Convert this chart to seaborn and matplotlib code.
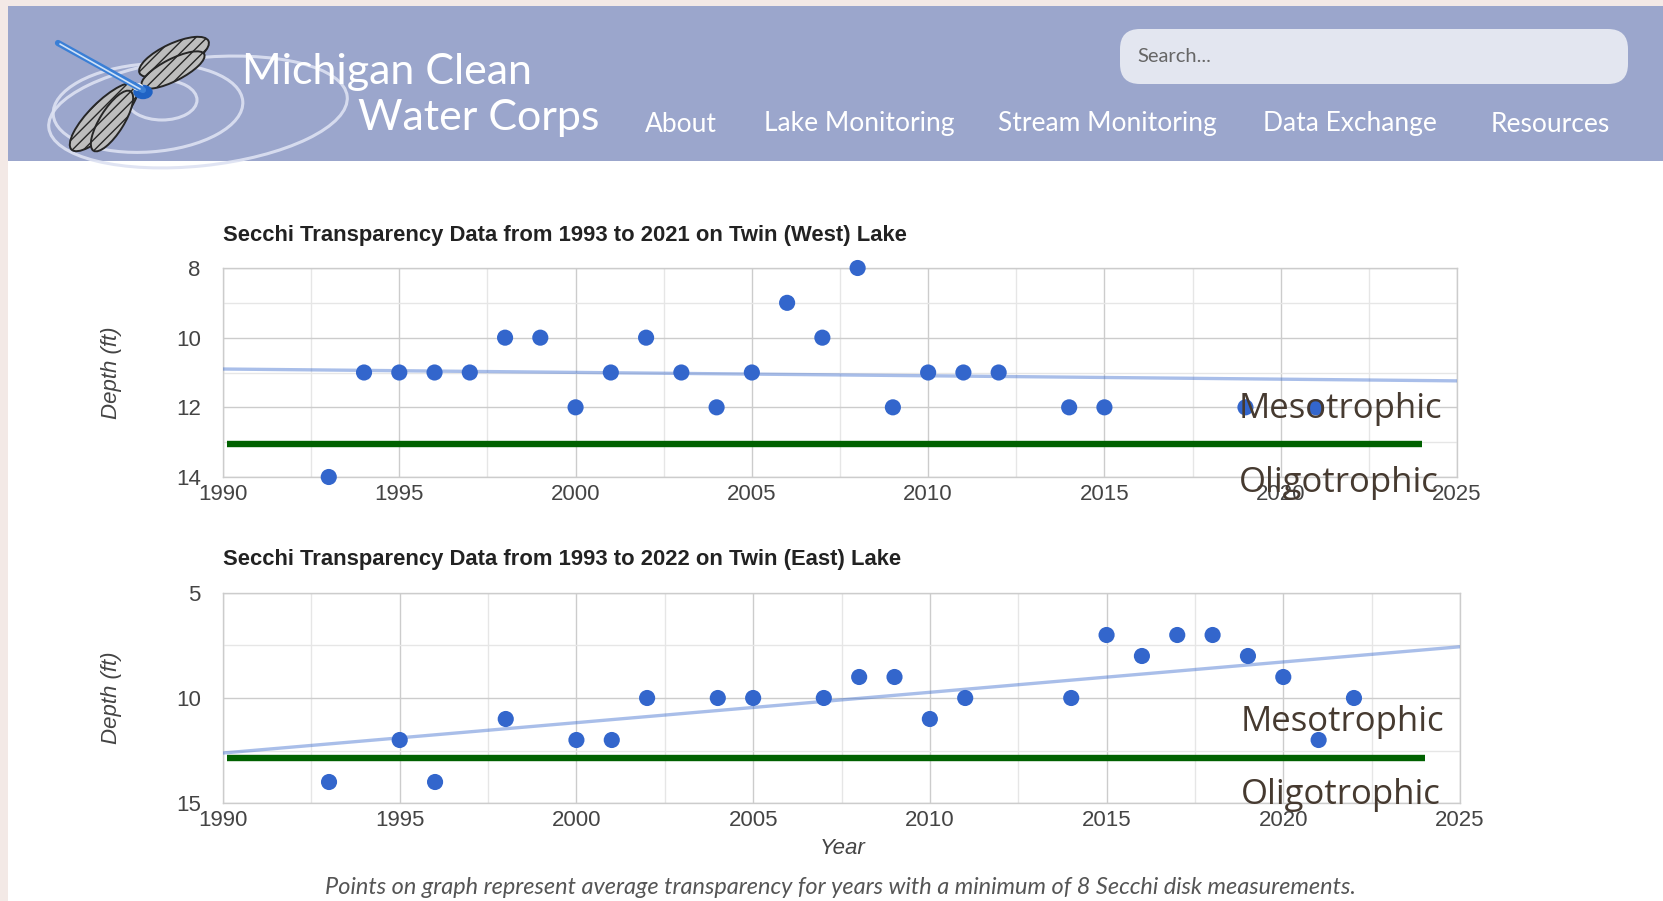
import numpy as np
import pandas as pd
import matplotlib.pyplot as plt
from matplotlib.patches import Rectangle, Ellipse, FancyBboxPatch
import seaborn as sns

# Secchi depth (ft) per year
west_years = [1993, 1994, 1995, 1996, 1997, 1998, 1999, 2000, 2001, 2002, 2003, 2004,
              2005, 2006, 2007, 2008, 2009, 2010, 2011, 2012, 2014, 2015, 2019, 2021]
west_depth = [14, 11, 11, 11, 11, 10, 10, 12, 11, 10, 11, 12,
              11, 9, 10, 8, 12, 11, 11, 11, 12, 12, 12, 12]
east_years = [1993, 1995, 1996, 1998, 2000, 2001, 2002, 2004, 2005, 2007, 2008, 2009,
              2010, 2011, 2014, 2015, 2016, 2017, 2018, 2019, 2020, 2021, 2022]
east_depth = [14, 12, 14, 11, 12, 12, 10, 10, 10, 10, 9, 9,
              11, 10, 10, 7, 8, 7, 7, 8, 9, 12, 10]

# trend lines (end values)
trend_years = [1990, 2025]
west_trend = [10.9, 11.24]
east_trend = [12.62, 7.56]

# mesotrophic / oligotrophic boundary
boundary_years = [1990.1, 2024.0]
west_boundary = 13.05
east_boundary = 12.87

west_title = "Secchi Transparency Data from 1993 to 2021 on Twin (West) Lake"
east_title = "Secchi Transparency Data from 1993 to 2022 on Twin (East) Lake"
nav_items = ["About", "Lake Monitoring", "Stream Monitoring", "Data Exchange", "Resources"]
caption = "Points on graph represent average transparency for years with a minimum of 8 Secchi disk measurements."

sns.set_theme(style="white")
plt.rcParams['font.family'] = ['Liberation Sans', 'DejaVu Sans']
LATO = ['Lato', 'DejaVu Sans']

W, H = 1663, 901
fig = plt.figure(figsize=(W / 100, H / 100), dpi=100)
fig.patch.set_facecolor('#f3e9e6')

# page background + header, drawn in pixel coords
bg = fig.add_axes([0, 0, 1, 1])
bg.set_xlim(0, W)
bg.set_ylim(H, 0)
bg.axis('off')
bg.add_patch(Rectangle((8, 6), W, H, color='white', lw=0))
bg.add_patch(Rectangle((8, 6), W, 155, color='#9ba6cc', lw=0))

# logo ripples
for cx, cy, w, h, a in [(198, 112, 300, 108, -6), (148, 108, 190, 88, -4), (162, 100, 70, 40, 0)]:
    bg.add_patch(Ellipse((cx, cy), w, h, angle=a, fill=False, ec='#dde2f2', lw=2.2, alpha=0.9))
# dragonfly
bg.plot([58, 143], [43, 90], color='#3a7fd6', lw=4.5, solid_capstyle='round')
bg.plot([60, 140], [44, 89], color='#cfe2f8', lw=1.2)
for cx, cy, w, h, a in [(174, 57, 76, 27, -25), (173, 70, 70, 22, -27),
                        (104, 117, 92, 30, -45), (112, 121, 70, 24, -58)]:
    bg.add_patch(Ellipse((cx, cy), w, h, angle=a, fc='#bdbdbd', ec='#262626', lw=1.4, hatch='///'))
bg.add_patch(Ellipse((143, 92), 18, 13, color='#1f62c4'))
bg.add_patch(Ellipse((138, 87), 9, 6, color='white'))

bg.text(242, 72, "Michigan Clean", color='white', fontsize=31, family=LATO,
        va='center', ha='left')
bg.text(358, 118, "Water Corps", color='white', fontsize=31, family=LATO,
        va='center', ha='left')

nav_x = [645, 764, 998, 1263, 1491]
for label, x in zip(nav_items, nav_x):
    bg.text(x, 124, label, color='white', fontsize=19, family=LATO, va='center', ha='left')

bg.add_patch(FancyBboxPatch((1120, 29), 508, 55, boxstyle="round,pad=0,rounding_size=20",
                            fc='#e3e6f0', ec='none'))
bg.text(1137, 57, "Search...", color='#666666', fontsize=14.5, family=LATO,
        va='center', ha='left')

# chart titles, axis labels, caption
bg.text(223, 236, west_title, fontsize=15.8, fontweight='bold', color='#222222', va='center')
bg.text(223, 560, east_title, fontsize=15.8, fontweight='bold', color='#222222', va='center')
for yc in [373, 698]:
    bg.text(111, yc, "Depth (ft)", fontsize=16, style='italic', color='#444444',
            rotation=90, va='center', ha='center')
bg.text(843, 849, "Year", fontsize=16, style='italic', color='#444444', va='center', ha='center')
bg.text(840, 887, caption, fontsize=16.9, style='italic', color='#555555', va='center', ha='center',
        family=LATO)


def draw_chart(ax, years, depth, trend, boundary, ylims, yticks, yminor, meso_y, oligo_y):
    ax.set_facecolor('white')
    ax.set_xlim(1990, 2025)
    ax.set_ylim(ylims[1], ylims[0])
    ax.set_xticks(range(1990, 2026, 5))
    ax.set_xticks(np.arange(1992.5, 2025, 5), minor=True)
    ax.set_yticks(yticks)
    ax.set_yticks(yminor, minor=True)
    ax.grid(which='major', color='#cccccc', lw=1)
    ax.grid(which='minor', color='#e6e6e6', lw=1)
    ax.tick_params(which='both', length=0, labelsize=16, labelcolor='#444444')
    ax.tick_params(axis='y', pad=16)
    ax.tick_params(axis='x', pad=5)
    for s in ax.spines.values():
        s.set_color('#cccccc')
        s.set_linewidth(1)

    sns.lineplot(x=trend_years, y=trend, ax=ax, color='#3366cc', alpha=0.42, lw=2.4, zorder=3)
    ax.hlines(boundary, boundary_years[0], boundary_years[1], color='#006100', lw=4.6,
              zorder=3, clip_on=False)
    sns.scatterplot(x=years, y=depth, ax=ax, color='#3366cc', s=135, edgecolor='none',
                    zorder=4, clip_on=False)
    ax.set_xlabel('')
    ax.set_ylabel('')
    ax.text(2018.8, meso_y, "Mesotrophic", fontsize=25, color='#463a30', va='center',
            family=['Open Sans', 'DejaVu Sans'], clip_on=False, zorder=5)
    ax.text(2018.8, oligo_y, "Oligotrophic", fontsize=25, color='#463a30', va='center',
            family=['Open Sans', 'DejaVu Sans'], clip_on=False, zorder=5)


ax1 = fig.add_axes([223 / W, 1 - 477 / H, 1234 / W, 209 / H])
draw_chart(ax1, west_years, west_depth, west_trend, west_boundary,
           (8, 14), [8, 10, 12, 14], [9, 11, 13], 12.05, 14.17)

ax2 = fig.add_axes([223 / W, 1 - 803 / H, 1237 / W, 210 / H])
draw_chart(ax2, east_years, east_depth, east_trend, east_boundary,
           (5, 15), [5, 10, 15], [7.5, 12.5], 11.14, 14.62)

fig.savefig("out.png", dpi=100, facecolor=fig.get_facecolor())
